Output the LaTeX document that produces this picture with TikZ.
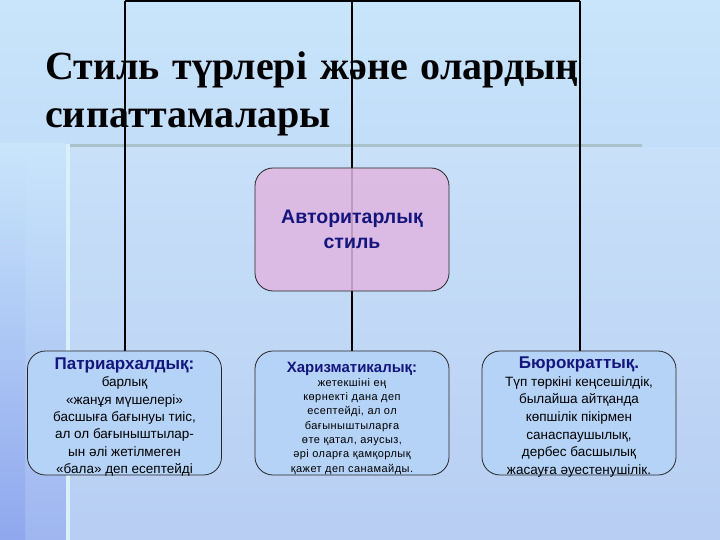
\documentclass[tikz,border=0pt]{standalone}
\usepackage{fontspec}
\setmainfont{Liberation Serif}
\setsansfont{Liberation Sans}
\definecolor{bgtop}{HTML}{C9E5FB}
\definecolor{bgbot}{HTML}{B0C9F2}
\definecolor{stripbot}{HTML}{9FB6F0}
\definecolor{stripdark}{HTML}{8FA8EE}
\definecolor{graybar}{HTML}{A9C1C9}
\definecolor{whitebar}{HTML}{D9EFFA}
\definecolor{pinkfill}{HTML}{E0B6E0}
\definecolor{bluefill}{HTML}{B5D3F6}
\definecolor{navy}{HTML}{15157E}
\newcommand{\bigheadfont}{\sffamily\bfseries\fontsize{19.5}{25}\selectfont\color{navy}}
\newcommand{\headfontA}{\sffamily\bfseries\fontsize{17}{19}\selectfont\color{navy}}
\newcommand{\headfontB}{\sffamily\bfseries\fontsize{15}{18}\selectfont\color{navy}}
\newcommand{\bodyfontA}[1]{\sffamily\mdseries\fontsize{13.5}{#1}\selectfont\color{black}}
\newcommand{\bodyfontB}{\sffamily\mdseries\addfontfeatures{LetterSpace=4}\fontsize{11}{14.3}\selectfont\color{black}}
\newcommand{\boxtext}[2]{\raisebox{-#1}[\height][\depth]{\parbox{192pt}{\centering #2}}}
\tikzset{
  conn/.style={draw=black, line width=1.8pt},
  boxbase/.style={draw=black!85, line width=0.8pt, rounded corners=18pt, inner sep=0pt},
  topbox/.style={boxbase, fill=pinkfill, fill opacity=0.85, text opacity=1, minimum width=194pt, minimum height=123pt},
  lowbox/.style={boxbase, fill=bluefill, minimum width=194pt, minimum height=124pt},
  title/.style={font=\fontsize{40}{48}\selectfont\bfseries, align=left, anchor=base west, inner sep=0pt},
}
\begin{document}
\begin{tikzpicture}[x=1pt,y=-1pt]
\useasboundingbox (0,0) rectangle (720,540);
% background
\shade[top color=bgtop, bottom color=bgbot] (0,0) rectangle (720,540);
\shade[top color=bgtop, bottom color=stripbot] (0,144) rectangle (66,540);
\shade[top color=bgtop, bottom color=stripdark] (0,144) rectangle (25,540);
\fill[white, opacity=0.10] (70,147) rectangle (720,540);
\fill[graybar] (66,144) rectangle (642,147);
\fill[whitebar] (66,144) rectangle (70,540);
% title
\node[title] (t) at (45,128) {Стиль\hspace{13pt}түрлері\hspace{13pt}және\hspace{13pt}олардың\\сипаттамалары};
% top coordinates
\coordinate (tl) at (125,1);
\coordinate (tm) at (352,1);
\coordinate (tr) at (580,1);
% connectors behind
\draw[conn] (tl) -- (tr);
\draw[conn] (tl) -- (125,351);
\draw[conn] (tm) -- (352,351);
\draw[conn] (tr) -- (580,351);
% boxes
\node[topbox] (a) at (352,229.5) {\boxtext{0pt}{\bigheadfont Авторитарлық\\стиль\par}};
\node[lowbox] (p) at (124.5,413) {\boxtext{4pt}{{\headfontA Патриархалдық:\par}%
{\bodyfontA{17.4}барлық\\«жанұя мүшелері»\\басшыға бағынуы тиіс,\\ал ол бағыныштылар-\\ын әлі жетілмеген\\«бала» деп есептейді\par}}};
\node[lowbox] (c) at (352,413) {\boxtext{5pt}{{\headfontB Харизматикалық:\par}%
{\bodyfontB жетекшіні ең\\көрнекті дана деп\\есептейді, ал ол\\бағыныштыларға\\өте қатал, аяусыз,\\әрі оларға қамқорлық\\қажет деп санамайды.\par}}};
\node[lowbox] (b) at (579,413) {\boxtext{4pt}{{\headfontA Бюрократтық.\par}%
{\bodyfontA{17.6}Түп төркіні кеңсешілдік,\\былайша айтқанда\\көпшілік пікірмен\\санаспаушылық,\\дербес басшылық\\жасауға әуестенушілік.\par}}};
\end{tikzpicture}
\end{document}
